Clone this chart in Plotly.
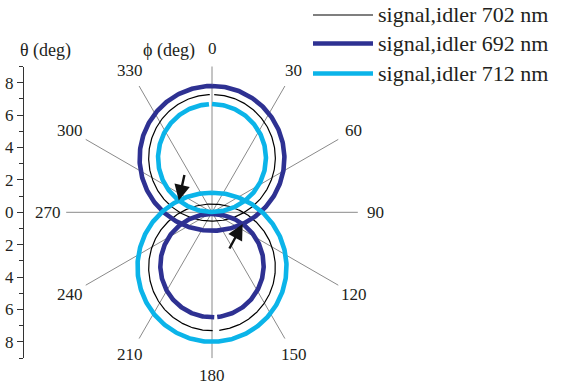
import numpy as np
import plotly.graph_objects as go

# ---------------- data ----------------
legend_labels = ["signal,idler 702 nm", "signal,idler 692 nm", "signal,idler 712 nm"]
line_colors = ["#000000", "#2e3192", "#0bb4e9"]
line_widths = [1.2, 4.6, 4.6]

# ring centres (θ offset along the 0-180 direction, deg) and radii (deg)
signal_center_deg = [3.36, 3.33, 3.35]
signal_radius_deg = [3.91, 4.47, 3.33]
idler_center_deg = [-3.40, -3.29, -3.39]
idler_radius_deg = [3.91, 3.19, 4.60]
# small unplotted arcs (angle around ring centre, deg clockwise from top)
signal_gap_deg = [(-2.0, 2.0), None, (-3.2, 0.0)]
idler_gap_deg = [(173.4, 179.4), (174.2, 177.5), None]

phi_ticks = [0, 30, 60, 90, 120, 150, 180, 210, 240, 270, 300, 330]
phi_tick_labels = [str(v) for v in phi_ticks]
theta_tickvals = [-8, -6, -4, -2, 0, 2, 4, 6, 8]
theta_ticktext = ["8", "6", "4", "2", "0", "2", "4", "6", "8"]

# ---------------- layout geometry ----------------
W, H = 563, 391
CX, CY = 212.0, 212.3      # pixel position of the polar centre
S = 16.2                   # pixels per degree
SPOKE_LEN = 9.0
LABEL_R = 10.1
FONT = "Liberation Serif, Times New Roman, serif"
TXT = "#231f20"

x_range = [-CX / S, (W - CX) / S]
y_range = [-(H - CY) / S, CY / S]


def ring(cy, r, gap):
    if gap is None:
        a = np.linspace(0, 360, 361)
    else:
        a = np.linspace(gap[1], gap[0] + 360, 361)
    rad = np.radians(a)
    return [float(v) for v in r * np.sin(rad)], [float(v) for v in cy + r * np.cos(rad)]


def intersect(c1, r1, c2, r2, side):
    y = ((r1 ** 2 - r2 ** 2) / (c2 - c1) + c1 + c2) / 2
    x = side * np.sqrt(max(r1 ** 2 - (y - c1) ** 2, 0))
    return float(x), float(y)


fig = go.Figure()

# spokes
sx, sy = [], []
for p in phi_ticks:
    t = np.radians(p)
    sx += [0.0, float(SPOKE_LEN * np.sin(t)), None]
    sy += [0.0, float(SPOKE_LEN * np.cos(t)), None]
fig.add_trace(go.Scatter(x=sx, y=sy, mode="lines", line=dict(color="#8a8a8a", width=1),
                         showlegend=False, hoverinfo="skip"))

# rings
for i in range(len(legend_labels)):
    ux, uy = ring(signal_center_deg[i], signal_radius_deg[i], signal_gap_deg[i])
    lx, ly = ring(idler_center_deg[i], idler_radius_deg[i], idler_gap_deg[i])
    fig.add_trace(go.Scatter(x=ux + [None] + lx, y=uy + [None] + ly, mode="lines",
                             name=legend_labels[i],
                             line=dict(color=line_colors[i], width=line_widths[i]),
                             showlegend=False))

# dummy trace for the θ axis
fig.add_trace(go.Scatter(x=[None], y=[None], xaxis="x", yaxis="y2", showlegend=False,
                         hoverinfo="skip"))

annotations = []
for p, lab in zip(phi_ticks, phi_tick_labels):
    t = np.radians(p)
    annotations.append(dict(x=float(LABEL_R * np.sin(t)), y=float(LABEL_R * np.cos(t)), text=lab,
                            showarrow=False, xanchor="center", yanchor="middle",
                            font=dict(family=FONT, size=17, color=TXT)))

annotations.append(dict(x=(169 - CX) / S, y=(CY - 50) / S, text="\u03d5 (deg)", showarrow=False,
                        xanchor="center", yanchor="middle",
                        font=dict(family=FONT, size=18, color=TXT)))
annotations.append(dict(x=(45 - CX) / S, y=(CY - 50) / S, text="\u03b8 (deg)", showarrow=False,
                        xanchor="center", yanchor="middle",
                        font=dict(family=FONT, size=18, color=TXT)))

# arrows pointing at ring crossings
ax1, ay1 = intersect(signal_center_deg[2], signal_radius_deg[2],
                     idler_center_deg[2], idler_radius_deg[2], -1)
ax2, ay2 = intersect(signal_center_deg[1], signal_radius_deg[1],
                     idler_center_deg[1], idler_radius_deg[1], +1)
for (hx, hy, dx, dy) in [(ax1, ay1, 6, -27), (ax2, ay2, -14, 26)]:
    annotations.append(dict(x=hx, y=hy, ax=dx, ay=dy, showarrow=True, arrowhead=2,
                            arrowsize=1.3, arrowwidth=2.4, arrowcolor="#111", text=""))

# manual legend
shapes = []
legend_y_px = [15, 43.5, 73.5]
for i, lab in enumerate(legend_labels):
    yp = 1 - legend_y_px[i] / H
    shapes.append(dict(type="line", xref="paper", yref="paper", x0=313 / W, x1=373 / W,
                       y0=yp, y1=yp, line=dict(color=line_colors[i], width=line_widths[i])))
    annotations.append(dict(xref="paper", yref="paper", x=376 / W, y=yp, text=lab,
                            showarrow=False, xanchor="left", yanchor="middle",
                            font=dict(family=FONT, size=22, color=TXT)))

y2_top = 1 - (CY - 9 * S) / H
y2_bot = 1 - (CY + 9 * S) / H

fig.update_layout(
    width=W, height=H, margin=dict(l=0, r=0, t=0, b=0),
    paper_bgcolor="white", plot_bgcolor="rgba(0,0,0,0)",
    xaxis=dict(range=x_range, visible=False, domain=[0, 1], fixedrange=True),
    yaxis=dict(range=y_range, visible=False, domain=[0, 1], fixedrange=True),
    yaxis2=dict(range=[-9, 9], domain=[y2_bot, y2_top], anchor="free", position=23 / W,
                side="left", showline=True, linecolor="#333", linewidth=1.4,
                showgrid=False, zeroline=False,
                tickmode="array", tickvals=theta_tickvals, ticktext=theta_ticktext,
                ticks="outside", ticklen=6, tickwidth=1.2, tickcolor="#333",
                tickfont=dict(family=FONT, size=17, color=TXT),
                minor=dict(tickmode="linear", tick0=1, dtick=2, ticks="outside", ticklen=3.5,
                           tickwidth=1, tickcolor="#333")),
    annotations=annotations, shapes=shapes, showlegend=False,
)

fig.write_html("out.html", config={"displayModeBar": False},
               post_script="document.body.style.margin='0';")
